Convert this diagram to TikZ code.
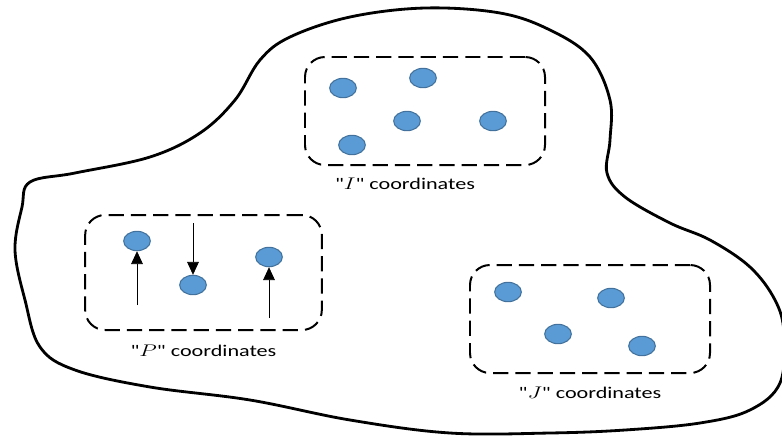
\documentclass[tikz,border=0pt]{standalone}
\usepackage{fontspec}
\setmainfont{Carlito}
\usetikzlibrary{arrows.meta,positioning,shapes.geometric}

\definecolor{dotfill}{HTML}{5B9BD5}
\definecolor{dotedge}{HTML}{41719C}
\newcommand\widetxt[1]{\scalebox{1.35}[1]{#1}}
\newcommand\qt[1]{\textquotedbl$#1$\textquotedbl}

\tikzset{
  pt/.style={ellipse, draw=dotedge, fill=dotfill, line width=0.9pt,
    minimum width=0.8cm, minimum height=0.58cm, inner sep=0},
  grp/.style={draw, line width=1.7pt, dash pattern=on 13pt off 6pt,
    rounded corners=0.6cm, inner sep=0},
  lbl/.style={inner sep=0, font=\fontsize{14}{16}\selectfont},
  arr/.style={line width=0.6pt, -{Triangle[width=10pt,length=11pt]}}
}

\begin{document}
\begin{tikzpicture}[x=0.03cm, y=-0.03cm]
  \useasboundingbox (0,0) rectangle (782,437);
  \clip (0,0) rectangle (782,437);

  % outer region
  \draw[line width=2.4pt] plot[smooth cycle, tension=0.6] coordinates {
    (30,182) (75,173) (150,157) (200,133) (235,100) (260,60) (290,37)
    (350,17) (425,8) (500,13) (550,30) (590,57) (610,100) (610,140)
    (607,173) (625,197) (670,223) (710,240) (750,267) (775,300)
    (784,333) (780,383) (750,410) (700,423) (625,430) (550,433)
    (450,433) (350,420) (250,400) (150,387) (75,370) (40,347)
    (25,300) (15,250) (22,207)};

  % the three groups
  \node[grp, minimum width=7.2cm, minimum height=3.24cm] (ibox) at (425,111) {};
  \node[grp, minimum width=7.1cm, minimum height=3.45cm] (pbox) at (203.5,272.5) {};
  \node[grp, minimum width=7.2cm, minimum height=3.24cm] (jbox) at (590,319) {};

  \node[lbl, below=0.34cm of ibox, xshift=-0.6cm] (ilbl) {\widetxt{\qt{I} coordinates}};
  \node[lbl, below=0.4cm of pbox] (plbl) {\widetxt{\qt{P} coordinates}};
  \node[lbl, below=0.37cm of jbox] (jlbl) {\widetxt{\qt{J} coordinates}};

  % I points
  \node[pt] (i1) at (343,88) {};
  \node[pt] (i2) at (423,78) {};
  \node[pt] (i3) at (407,121) {};
  \node[pt] (i4) at (493,121) {};
  \node[pt] (i5) at (352,145) {};

  % P points with their moves
  \node[pt] (p1) at (137,241) {};
  \node[pt] (p2) at (193,285) {};
  \node[pt] (p3) at (269,257) {};
  \coordinate (pa) at (137,305);
  \coordinate (pb) at (193,223);
  \coordinate (pc) at (269,318);
  \draw[arr] (pa) -- (p1);
  \draw[arr] (pb) -- (p2);
  \draw[arr] (pc) -- (p3);

  % J points
  \node[pt] (j1) at (508,292) {};
  \node[pt] (j2) at (611,298) {};
  \node[pt] (j3) at (558,334) {};
  \node[pt] (j4) at (642,346) {};
\end{tikzpicture}
\end{document}
